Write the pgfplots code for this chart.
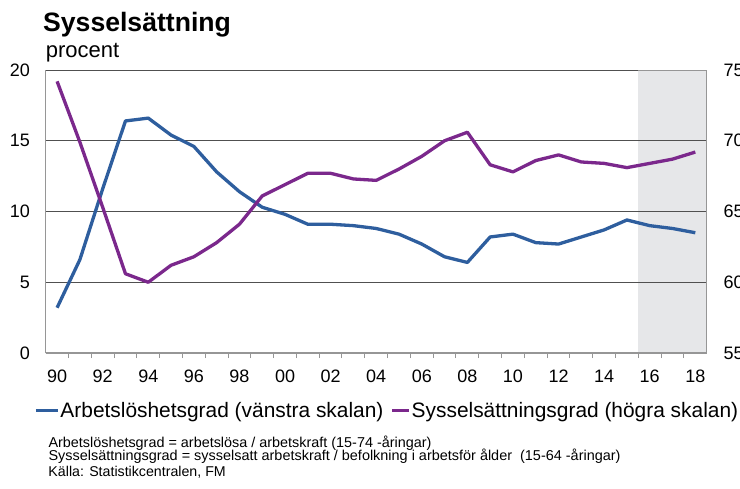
\documentclass[border=0pt]{standalone}
\usepackage{graphicx}
\usepackage{fontspec}
\setmainfont{Liberation Sans}
\usepackage{pgfplots}
\pgfplotsset{compat=1.18}

\definecolor{ablue}{RGB}{46,94,158}
\definecolor{apurple}{RGB}{123,40,140}
\definecolor{shadegray}{RGB}{230,231,233}
\definecolor{gridgray}{RGB}{80,80,80}
\definecolor{axisgray}{RGB}{150,150,150}

\pgfplotsset{
    longkey/.style={legend image code/.code={\draw[##1, line width=3.3pt] (0pt,0pt) -- (22pt,0pt);}},
    shortkey/.style={legend image code/.code={\draw[##1, line width=3.3pt] (0pt,0pt) -- (17pt,0pt);}},
}

% Arbetsloshetsgrad, vanstra skalan (procent)
\pgfplotstableread{
year val
1990 3.2
1991 6.6
1992 11.6
1993 16.4
1994 16.6
1995 15.4
1996 14.6
1997 12.8
1998 11.4
1999 10.3
2000 9.8
2001 9.1
2002 9.1
2003 9.0
2004 8.8
2005 8.4
2006 7.7
2007 6.8
2008 6.4
2009 8.2
2010 8.4
2011 7.8
2012 7.7
2013 8.2
2014 8.7
2015 9.4
2016 9.0
2017 8.8
2018 8.5
}\unemp

% Sysselsattningsgrad, hogra skalan (procent)
\pgfplotstableread{
year val
1990 74.2
1991 69.9
1992 65.3
1993 60.6
1994 60.0
1995 61.2
1996 61.8
1997 62.8
1998 64.1
1999 66.1
2000 66.9
2001 67.7
2002 67.7
2003 67.3
2004 67.2
2005 68.0
2006 68.9
2007 70.0
2008 70.6
2009 68.3
2010 67.8
2011 68.6
2012 69.0
2013 68.5
2014 68.4
2015 68.1
2016 68.4
2017 68.7
2018 69.2
}\employ

\begin{document}
\begin{tikzpicture}

\begin{axis}[
    set layers,
    scale only axis,
    width=661pt, height=283pt,
    xmin=1989.5, xmax=2018.5,
    ymin=0, ymax=20,
    axis x line*=bottom, axis y line*=left,
    axis line style={axisgray, line width=1.3pt},
    xtick={1990,1992,...,2018},
    xticklabels={90,92,94,96,98,00,02,04,06,08,10,12,14,16,18},
    minor xtick={1990.5,1991.5,...,2017.5},
    major tick length=0pt, minor tick length=5pt,
    tick align=outside,
    minor tick style={axisgray, line width=1pt},
    ytick={0,5,...,20},
    ymajorgrids,
    major grid style={gridgray, line width=0.9pt},
    tick label style={font=\fontsize{18}{18}\selectfont},
    /pgf/number format/assume math mode=true,
    yticklabel style={anchor=east, inner sep=0pt, xshift=-15.7pt},
    xticklabel style={anchor=north, inner sep=0pt, yshift=-17pt},
    legend columns=2,
    legend cell align=left,
    legend style={
        at={(-0.0177,-0.2025)}, anchor=west,
        draw=none, fill=none, inner sep=0pt,
        column sep=1pt,
        nodes={inner sep=0pt},
        font=\fontsize{20.9}{24}\selectfont,
        /tikz/column 2/.style={column sep=7pt},
    },
]
\begin{pgfonlayer}{axis background}
\fill[shadegray] (axis cs:2015.5,0) rectangle (axis cs:2018.5,20);
\end{pgfonlayer}
\draw[axisgray, line width=1.3pt] (axis cs:2015.5,20) -- (axis cs:2018.5,20);

\addplot[ablue, line width=3.3pt, line join=round, longkey] table[x=year, y=val] {\unemp};
\addlegendentry{Arbetslöshetsgrad (vänstra skalan)}
\addlegendimage{apurple, line width=3.3pt, shortkey}
\addlegendentry{Sysselsättningsgrad (högra skalan)}
\end{axis}

\begin{axis}[
    scale only axis,
    width=661pt, height=283pt,
    xmin=1989.5, xmax=2018.5,
    ymin=55, ymax=75,
    axis x line=none, axis y line*=right,
    axis line style={axisgray, line width=1.3pt},
    ytick={55,60,...,75},
    major tick length=0pt,
    tick label style={font=\fontsize{18}{18}\selectfont},
    /pgf/number format/assume math mode=true,
    yticklabel style={anchor=west, inner sep=0pt, xshift=16.7pt},
]
\addplot[apurple, line width=3.3pt, line join=round] table[x=year, y=val] {\employ};
\end{axis}

\node[anchor=base west, inner sep=0pt, font=\bfseries\fontsize{26.6}{30}\selectfont] at (-2.7pt,321.3pt) {Sysselsättning};
\node[anchor=base west, inner sep=0pt, font=\fontsize{22}{26}\selectfont] at (0pt,295.7pt) {procent};

\node[anchor=base west, inner sep=0pt, font=\fontsize{14.3}{16}\selectfont] at (2.6pt,-94.3pt)
    {\resizebox{383pt}{\height}{Arbetslöshetsgrad = arbetslösa / arbetskraft (15-74 -åringar)}};
\node[anchor=base west, inner sep=0pt, font=\fontsize{14.3}{16}\selectfont] at (2.6pt,-107pt)
    {\resizebox{572pt}{\height}{Sysselsättningsgrad = sysselsatt arbetskraft / befolkning i arbetsför ålder\ \ (15-64 -åringar)}};
\node[anchor=base west, inner sep=0pt, font=\fontsize{14.2}{16}\selectfont] at (2.6pt,-123.7pt)
    {Källa: Statistikcentralen, FM};

\pgfresetboundingbox
\path[use as bounding box] (-45.7pt,-135pt) rectangle (694.3pt,353pt);
\end{tikzpicture}
\end{document}
